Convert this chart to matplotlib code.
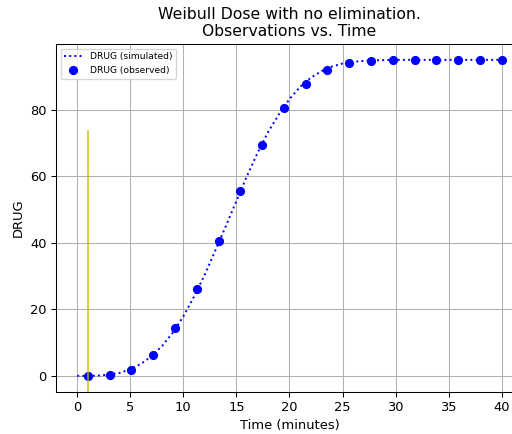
import numpy as np
import matplotlib
matplotlib.use("Agg")
import matplotlib.pyplot as plt

# simulated DRUG amount, one value per minute (0..40)
sim_time = list(range(0, 41))
sim_drug = [0.0, 0.0, 0.1, 0.4, 0.9, 2.0, 3.6, 5.9, 9.0, 13.0,
            17.9, 23.8, 30.3, 37.6, 45.0, 52.6, 60.1, 67.1, 73.4, 78.6,
            83.2, 86.9, 89.6, 91.6, 93.0, 93.9, 94.4, 94.7, 94.85, 94.93,
            95.0, 95.0, 95.0, 95.0, 95.0, 95.0, 95.0, 95.0, 95.0, 95.0, 95.0]

# observed samples
obs_time = np.linspace(1, 40, 20)
obs_drug = [0.0, 0.2, 1.9, 6.3, 14.4, 26.0, 40.4, 55.5, 69.5, 80.4,
            87.8, 91.9, 94.0, 94.7, 94.9, 95.0, 95.0, 95.0, 95.0, 95.0]

dose_time = 1.0

dpi = 94
fig = plt.figure(figsize=(512 / dpi, 434 / dpi), dpi=dpi)
ax = fig.add_axes([0.1094, 0.0975, 0.912, 0.801])

ax.plot(sim_time, sim_drug, 'b:', label="DRUG (simulated)")
ax.plot(obs_time, obs_drug, 'bo', label="DRUG (observed)")
ax.axvline(dose_time, ymax=0.75, color='y', alpha=0.7)

ax.set_xticks(np.arange(0, 41, 5))
ax.set_yticks(np.arange(0, 81, 20))
ax.set_xlabel("Time (minutes)")
ax.set_ylabel("DRUG")
ax.set_title("Weibull Dose with no elimination.\nObservations vs. Time")
ax.grid(True)
ax.legend(loc="upper left", fontsize=7)

fig.savefig("out.png", dpi=dpi)
